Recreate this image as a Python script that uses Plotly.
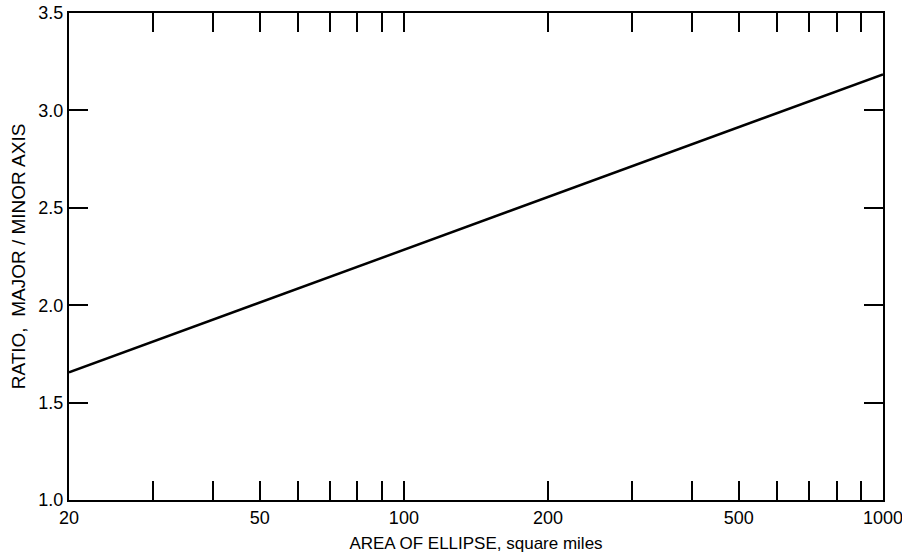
import math
import plotly.graph_objects as go

# Data
area_sq_mi = [20, 1000]
ratio_major_minor = [1.655, 3.185]

x_tick_vals = [20, 30, 40, 50, 60, 70, 80, 90, 100, 200, 300, 400, 500, 600, 700, 800, 900, 1000]
x_tick_text = ["20", "", "", "50", "", "", "", "", "100", "200", "", "", "500", "", "", "", "", "1000"]
y_tick_vals = [1.0, 1.5, 2.0, 2.5, 3.0, 3.5]
y_tick_text = ["1.0", "1.5", "2.0", "2.5", "3.0", "3.5"]

FONT = "Liberation Sans, Arial, Helvetica, sans-serif"

fig = go.Figure()
fig.add_trace(go.Scatter(
    x=area_sq_mi, y=ratio_major_minor, mode="lines",
    line=dict(color="black", width=2.5), showlegend=False, hoverinfo="skip",
))

fig.update_layout(
    width=902, height=554,
    margin=dict(l=69, r=19, t=13, b=54, autoexpand=False),
    paper_bgcolor="white", plot_bgcolor="white",
    font=dict(family=FONT, color="black", size=18),
)
fig.update_xaxes(
    type="log", range=[math.log10(20), 3],
    tickmode="array", tickvals=x_tick_vals, ticktext=x_tick_text,
    ticks="inside", ticklen=19, tickwidth=2, tickcolor="black",
    showline=True, linecolor="black", linewidth=2, mirror="ticks",
    showgrid=False, zeroline=False, ticklabeloverflow="allow",
    tickfont=dict(size=18),
    title=dict(text="AREA OF ELLIPSE, square miles", font=dict(size=17), standoff=11),
)
fig.update_yaxes(
    range=[1.0, 3.5],
    tickmode="array", tickvals=y_tick_vals, ticktext=y_tick_text,
    ticks="inside", ticklen=19, tickwidth=2, tickcolor="black",
    showline=True, linecolor="black", linewidth=2, mirror="ticks",
    showgrid=False, zeroline=False, ticklabeloverflow="allow",
    tickfont=dict(size=18),
    title=dict(text="RATIO,  MAJOR / MINOR AXIS", font=dict(size=19), standoff=8),
)

fig.write_html(
    "out.html",
    config={"displayModeBar": False, "staticPlot": True},
    post_script="document.body.style.margin='0';document.body.style.overflow='hidden';",
)
